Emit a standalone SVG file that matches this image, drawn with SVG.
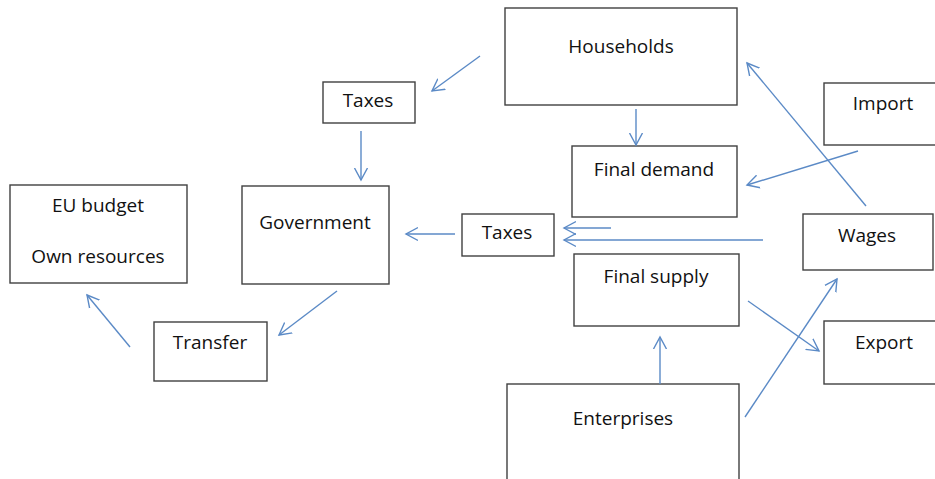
<svg xmlns="http://www.w3.org/2000/svg" width="935" height="479" viewBox="0 0 935 479">
<style>
.box{fill:#fff;stroke:#404040;stroke-width:1.4}
.lbl{font-family:"Open Sans","Liberation Sans",sans-serif;font-size:19px;fill:#111;text-anchor:middle}
.conn{stroke:#5b8ac6;stroke-width:1.4;fill:none;marker-end:url(#ah)}
</style>
<defs>
<marker id="ah" markerUnits="userSpaceOnUse" markerWidth="16" markerHeight="16" refX="12" refY="7" orient="auto" viewBox="0 0 16 14">
<path d="M0,0.5 L12,7 L0,13.5" fill="none" stroke="#5b8ac6" stroke-width="1.4"/>
</marker>
</defs>
<rect width="935" height="479" fill="#fff"/>
<g id="households"><rect class="box" x="505" y="8" width="232" height="97"/><text class="lbl" x="621" y="53">Households</text></g>
<g id="final-demand"><rect class="box" x="572" y="146" width="165" height="71"/><text class="lbl" x="654" y="176">Final demand</text></g>
<g id="taxes-right"><rect class="box" x="462" y="214" width="92" height="42"/><text class="lbl" x="507" y="239">Taxes</text></g>
<g id="import"><rect class="box" x="824" y="83" width="115" height="62"/><text class="lbl" x="883" y="110">Import</text></g>
<g id="wages"><rect class="box" x="803" y="214" width="130" height="56"/><text class="lbl" x="867" y="242">Wages</text></g>
<g id="final-supply"><rect class="box" x="574" y="254" width="165" height="72"/><text class="lbl" x="656" y="283">Final supply</text></g>
<g id="export"><rect class="box" x="824" y="321" width="115" height="63"/><text class="lbl" x="884" y="349">Export</text></g>
<g id="enterprises"><rect class="box" x="507" y="384" width="232" height="110"/><text class="lbl" x="623" y="425">Enterprises</text></g>
<g id="taxes-left"><rect class="box" x="323" y="82" width="92" height="41"/><text class="lbl" x="368" y="107">Taxes</text></g>
<g id="eu-budget"><rect class="box" x="10" y="185" width="177" height="98"/><text class="lbl" x="98" y="212">EU budget</text><text class="lbl" x="98" y="263">Own resources</text></g>
<g id="government"><rect class="box" x="242" y="186" width="147" height="98"/><text class="lbl" x="315" y="229">Government</text></g>
<g id="transfer"><rect class="box" x="154" y="322" width="113" height="59"/><text class="lbl" x="210" y="349">Transfer</text></g>
<g id="connectors">
<line class="conn" x1="480" y1="56" x2="432" y2="91"/>
<line class="conn" x1="361" y1="131" x2="361" y2="180"/>
<line class="conn" x1="455" y1="234" x2="406" y2="234"/>
<line class="conn" x1="337" y1="291" x2="279" y2="335"/>
<line class="conn" x1="130" y1="347" x2="87" y2="295"/>
<line class="conn" x1="636" y1="109" x2="636" y2="145"/>
<line class="conn" x1="858" y1="151" x2="747" y2="185"/>
<line class="conn" x1="866" y1="206" x2="747" y2="63"/>
<line class="conn" x1="611" y1="228" x2="564" y2="228"/>
<line class="conn" x1="763" y1="240" x2="564" y2="240"/>
<line class="conn" x1="660" y1="384" x2="660" y2="337"/>
<line class="conn" x1="748" y1="301" x2="819" y2="351"/>
<line class="conn" x1="745" y1="417" x2="837" y2="279"/>
</g>
</svg>
